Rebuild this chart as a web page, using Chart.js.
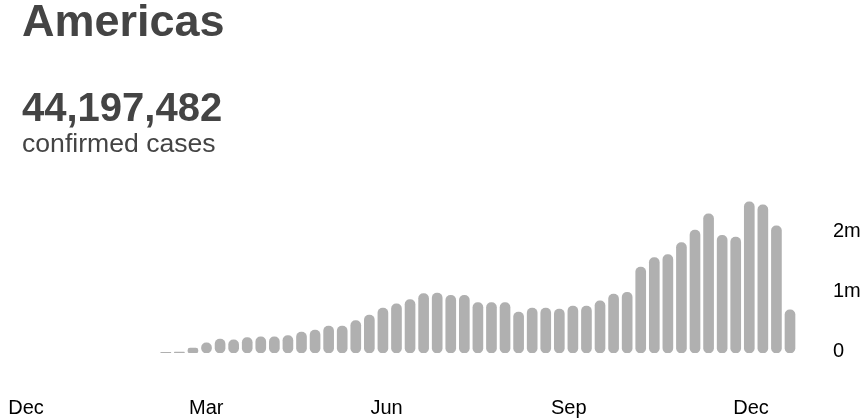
<!DOCTYPE html>
<html>
<head>
<meta charset="utf-8">
<script src="https://cdn.jsdelivr.net/npm/chart.js@4.4.0/dist/chart.umd.min.js"></script>
<style>
html,body{margin:0;padding:0;background:#fff;}
body{width:867px;height:420px;position:relative;overflow:hidden;font-family:"Liberation Sans",Arial,sans-serif;}
#c{position:absolute;left:0;top:0;}
.t{position:absolute;left:22px;color:#444;line-height:1;white-space:nowrap;}
#title{top:-2px;font-size:45px;font-weight:bold;}
#total{top:87px;font-size:40px;font-weight:bold;}
#sub{top:130px;font-size:26.6px;}
</style>
</head>
<body>
<canvas id="c" width="867" height="420"></canvas>
<div class="t" id="title">Americas</div>
<div class="t" id="total">44,197,482</div>
<div class="t" id="sub">confirmed cases</div>
<script>
// Week start dates (one bar per week)
const weekStarts = [
  '2020-03-08','2020-03-15','2020-03-22','2020-03-29',
  '2020-04-05','2020-04-12','2020-04-19','2020-04-26',
  '2020-05-03','2020-05-10','2020-05-17','2020-05-24','2020-05-31',
  '2020-06-07','2020-06-14','2020-06-21','2020-06-28',
  '2020-07-05','2020-07-12','2020-07-19','2020-07-26',
  '2020-08-02','2020-08-09','2020-08-16','2020-08-23','2020-08-30',
  '2020-09-06','2020-09-13','2020-09-20','2020-09-27',
  '2020-10-04','2020-10-11','2020-10-18','2020-10-25',
  '2020-11-01','2020-11-08','2020-11-15','2020-11-22','2020-11-29',
  '2020-12-06','2020-12-13','2020-12-20','2020-12-27',
  '2021-01-03','2021-01-10','2021-01-17','2021-01-24'
];
// Weekly confirmed cases
const weeklyCases = [
  10000, 15000, 80000, 170000,
  230000, 220000, 255000, 270000,
  270000, 290000, 350000, 380000, 450000,
  450000, 540000, 630000, 750000,
  820000, 890000, 990000, 1000000,
  960000, 960000, 840000, 840000, 840000,
  680000, 750000, 750000, 730000,
  780000, 780000, 870000, 980000,
  1010000, 1430000, 1590000, 1640000, 1840000,
  2050000, 2320000, 1960000, 1930000,
  2520000, 2470000, 2120000, 720000
];
// Axis ticks
const monthTickDates = ['2020-01-01','2020-04-01','2020-07-01','2020-10-01','2021-01-01'];
const monthTickLabels = ['Dec','Mar','Jun','Sep','Dec'];
const yTickValues = [0, 1000000, 2000000];
const yTickLabels = ['0','1m','2m'];

const FONT = '"Liberation Sans", Arial, sans-serif';
const DAY = 86400000;
const EPOCH = Date.UTC(2020, 0, 1);
const dayOf = s => (Date.parse(s + 'T00:00:00Z') - EPOCH) / DAY;
const tickDays = monthTickDates.map(dayOf);
const points = weekStarts.map((d, i) => ({ x: dayOf(d), y: weeklyCases[i] }));

new Chart(document.getElementById('c'), {
  type: 'bar',
  data: {
    datasets: [{
      data: points,
      xAxisID: 'xb',
      yAxisID: 'y',
      backgroundColor: '#b0b0b0',
      borderWidth: 0,
      borderRadius: 5,
      borderSkipped: false,
      barThickness: 10
    }]
  },
  options: {
    responsive: false,
    devicePixelRatio: 1,
    animation: false,
    events: [],
    layout: { padding: { top: 197, left: 0, right: 0, bottom: 0 } },
    plugins: { legend: { display: false }, tooltip: { enabled: false } },
    scales: {
      x: {
        type: 'linear',
        position: 'bottom',
        offset: false,
        min: -13.13,
        max: 401.84,
        grid: { display: false, drawTicks: false, offset: false },
        border: { display: false },
        ticks: {
          autoSkip: false, maxRotation: 0, padding: 0,
          color: '#000', font: { family: FONT, size: 20, lineHeight: 5.5 },
          callback: (v, i) => monthTickLabels[i]
        },
        afterBuildTicks: s => { s.ticks = tickDays.map(v => ({ value: v })); },
        afterFit: s => { s.height = 67; }
      },
      xb: {
        type: 'linear',
        display: false,
        offset: false,
        grid: { offset: false },
        min: -18.53,
        max: 405.51
      },
      y: {
        position: 'right',
        min: 0,
        max: 2600000,
        grid: { display: false, drawTicks: false },
        border: { display: false },
        ticks: {
          padding: 11, labelOffset: -2,
          color: '#000', font: { family: FONT, size: 20 },
          callback: (v, i) => yTickLabels[i]
        },
        afterBuildTicks: s => { s.ticks = yTickValues.map(v => ({ value: v })); },
        afterFit: s => { s.width = 45; s.paddingTop = 0; s.paddingBottom = 0; }
      }
    }
  }
});
</script>
</body>
</html>
